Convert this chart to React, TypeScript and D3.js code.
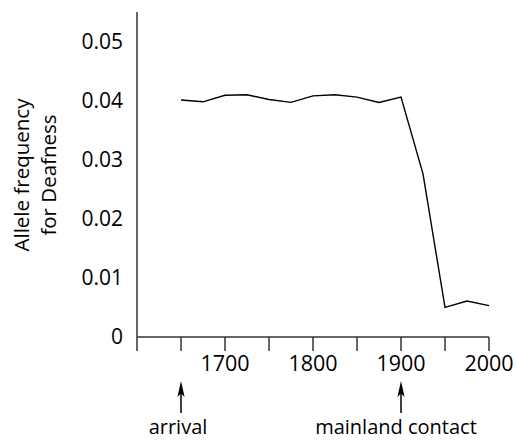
import React from "react";
import * as d3 from "d3";

const years = [1650, 1675, 1700, 1725, 1750, 1775, 1800, 1825, 1850, 1875, 1900, 1925, 1950, 1975, 2000];
const freq = [0.0401, 0.0398, 0.0409, 0.041, 0.0402, 0.0397, 0.0408, 0.041, 0.0406, 0.0397, 0.0406, 0.0276, 0.005, 0.0061, 0.0053];
const yTicks = [0, 0.01, 0.02, 0.03, 0.04, 0.05];
const yTickLabels = ["0", "0.01", "0.02", "0.03", "0.04", "0.05"];
const xTicks = [1600, 1650, 1700, 1750, 1800, 1850, 1900, 1950, 2000];
const xTickLabels = ["", "", "1700", "", "1800", "", "1900", "", "2000"];
const events = [
  { year: 1650, label: "arrival", dx: -3 },
  { year: 1900, label: "mainland contact", dx: -5 },
];
const titleLines = ["Allele frequency", "for Deafness"];

const W = 517;
const H = 440;
const FONT = "'Open Sans', 'Noto Sans', sans-serif";
const AXIS = "#333";

export default function App() {
  const x = d3.scaleLinear().domain([1600, 2000]).range([137, 489]);
  const y = d3.scaleLinear().domain([0, 0.055]).range([337, 12]);
  const line = d3
    .line<number>()
    .x((_, i) => x(years[i]))
    .y((d) => y(d));

  return (
    <svg
      width={W}
      height={H}
      style={{ position: "absolute", left: 0, top: 0, background: "#fff" }}
      fontFamily={FONT}
    >
      {/* Y axis title */}
      <g transform={`translate(0, 175) rotate(-90)`}>
        <text x={0} y={29} textAnchor="middle" fontSize={20.5} fill="#000">
          {titleLines[0]}
        </text>
        <text x={0} y={56} textAnchor="middle" fontSize={20.5} fill="#000">
          {titleLines[1]}
        </text>
      </g>
      {/* Y axis */}
      <line x1={x(1600)} x2={x(1600)} y1={y(0.055)} y2={y(0)} stroke={AXIS} strokeWidth={1.5} />
      {yTicks.map((t, i) => (
        <text key={i} x={123} y={y(t)} dy="0.35em" textAnchor="end" fontSize={21} fill="#000">
          {yTickLabels[i]}
        </text>
      ))}
      {/* X axis */}
      <line x1={x(1600)} x2={x(2000)} y1={y(0)} y2={y(0)} stroke={AXIS} strokeWidth={1.5} />
      {xTicks.map((t, i) => (
        <g key={i}>
          <line x1={x(t)} x2={x(t)} y1={y(0)} y2={y(0) + 14} stroke={AXIS} strokeWidth={1.5} />
          {xTickLabels[i] && (
            <text x={x(t)} y={371} textAnchor="middle" fontSize={21.5} fill="#000">
              {xTickLabels[i]}
            </text>
          )}
        </g>
      ))}
      {/* Data line */}
      <path d={line(freq) || ""} fill="none" stroke="#000" strokeWidth={1.4} strokeLinejoin="miter" />
      {/* Event arrows */}
      {events.map((e, i) => {
        const ax = x(e.year);
        return (
          <g key={i}>
            <line x1={ax} x2={ax} y1={413} y2={390} stroke="#000" strokeWidth={1.5} />
            <path d={`M${ax},381 L${ax + 3.6},397 L${ax},393.5 L${ax - 3.6},397 Z`} fill="#000" />
            <text x={ax + e.dx} y={434} textAnchor="middle" fontSize={20} fill="#000">
              {e.label}
            </text>
          </g>
        );
      })}
    </svg>
  );
}
